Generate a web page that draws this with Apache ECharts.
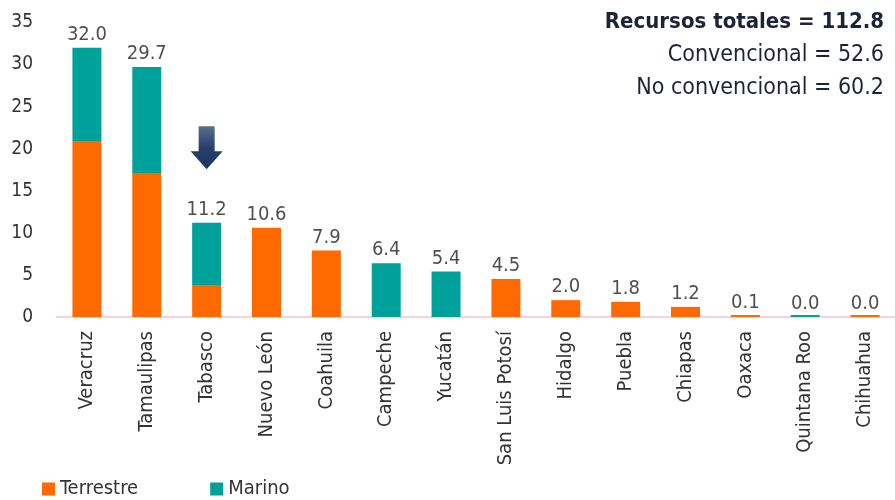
<!DOCTYPE html>
<html>
<head>
<meta charset="utf-8">
<script src="https://cdn.jsdelivr.net/npm/echarts@6/dist/echarts.min.js"></script>
<style>
  html, body { margin: 0; padding: 0; background: #fff; }
  #chart { width: 895px; height: 500px; }
</style>
</head>
<body>
<div id="chart"></div>
<script>
const estados = ['Veracruz', 'Tamaulipas', 'Tabasco', 'Nuevo León', 'Coahuila', 'Campeche', 'Yucatán',
  'San Luis Potosí', 'Hidalgo', 'Puebla', 'Chiapas', 'Oaxaca', 'Quintana Roo', 'Chihuahua']
// '-' = no segment for that state
const terrestre = [20.9, 17.1, 3.8, 10.6, 7.9, '-', '-', 4.5, 2.0, 1.8, 1.2, 0.1, '-', 0.02]
const marino = [11.1, 12.6, 7.4, '-', '-', 6.4, 5.4, '-', '-', '-', '-', '-', 0.02, '-']
const yTicks = [0, 5, 10, 15, 20, 25, 30, 35]
const resumen = { total: 112.8, convencional: 52.6, noConvencional: 60.2 }

const FONT = '"Liberation Sans Narrow", "DejaVu Sans Condensed", "Liberation Sans", sans-serif'
const ORANGE = '#ff6a00'
const TEAL = '#00a19b'

const num = v => (v === '-' ? 0 : v)
const totals = estados.map((_, i) => +(num(terrestre[i]) + num(marino[i])).toFixed(2))

const chart = echarts.init(document.getElementById('chart'))

chart.setOption({
  backgroundColor: '#fff',
  animation: false,
  textStyle: { fontFamily: FONT },
  title: {
    right: 6,
    top: 1,
    text: '{b|Recursos totales = ' + resumen.total.toFixed(1) + '}\n' +
      '{n|Convencional = ' + resumen.convencional.toFixed(1) + '}\n' +
      '{n|No convencional = ' + resumen.noConvencional.toFixed(1) + '}',
    textStyle: {
      align: 'right',
      rich: {
        b: { fontFamily: FONT, fontSize: 22, fontWeight: 'bold', color: '#1c2238', lineHeight: 33, align: 'right' },
        n: { fontFamily: FONT, fontSize: 23, fontWeight: 'normal', color: '#1c2238', lineHeight: 33, align: 'right' }
      }
    }
  },
  legend: {
    left: 37,
    top: 474,
    itemWidth: 13,
    itemHeight: 13,
    itemGap: 72,
    icon: 'rect',
    data: ['Terrestre', 'Marino'],
    textStyle: { fontFamily: FONT, fontSize: 20, color: '#333' }
  },
  grid: { left: 57, right: -8, top: 22.4, bottom: 183 },
  xAxis: {
    type: 'category',
    data: estados,
    axisLine: { lineStyle: { color: '#f4d3de', width: 2 } },
    axisTick: { show: false },
    axisLabel: { rotate: 90, interval: 0, margin: 14, fontFamily: FONT, fontSize: 20, color: '#333' }
  },
  yAxis: {
    type: 'value',
    min: yTicks[0],
    max: yTicks[yTicks.length - 1],
    interval: yTicks[1] - yTicks[0],
    axisLine: { show: false },
    axisTick: { show: false },
    splitLine: { show: false },
    axisLabel: { margin: 24, fontFamily: FONT, fontSize: 19, color: '#333' }
  },
  series: [
    {
      name: 'Terrestre',
      type: 'bar',
      stack: 'rec',
      barWidth: 29,
      barMinHeight: 2,
      itemStyle: { color: ORANGE },
      data: terrestre
    },
    {
      name: 'Marino',
      type: 'bar',
      stack: 'rec',
      barWidth: 29,
      barMinHeight: 2,
      itemStyle: { color: TEAL },
      data: marino,
      markPoint: {
        silent: true,
        symbol: 'path://M8,0 L24,0 L24,25 L32,25 L16,43 L0,25 L8,25 Z',
        symbolSize: [32, 43],
        symbolKeepAspect: false,
        label: { show: false },
        itemStyle: {
          color: new echarts.graphic.LinearGradient(0, 0, 0, 1, [
            { offset: 0, color: '#5a6f90' },
            { offset: 0.5, color: '#27406b' },
            { offset: 1, color: '#1b3560' }
          ])
        },
        data: [{ coord: ['Tabasco', 20.1] }]
      }
    },
    {
      name: 'Total',
      type: 'scatter',
      symbolSize: 0,
      silent: true,
      data: totals,
      label: {
        show: true,
        position: 'top',
        distance: 3,
        fontFamily: FONT,
        fontSize: 20,
        color: '#222',
        formatter: p => p.value.toFixed(1)
      }
    }
  ]
})
</script>
</body>
</html>
